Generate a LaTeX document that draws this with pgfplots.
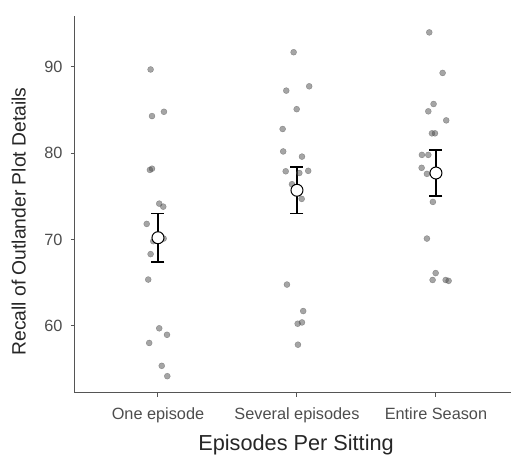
\documentclass[border=0pt]{standalone}
\usepackage{pgfplots}
\pgfplotsset{compat=1.18}
\usepackage{fontspec}
\setmainfont{Liberation Sans}
\definecolor{ticktext}{HTML}{4D4D4D}
\definecolor{axcol}{HTML}{555555}
\begin{document}
\begin{tikzpicture}
\path[use as bounding box] (-75pt,-64pt) rectangle (441pt,393pt);
\begin{axis}[
  at={(0pt,0pt)}, anchor=origin,
  scale only axis, width=436pt, height=377pt,
  xmin=0.403, xmax=3.54, ymin=52.2, ymax=95.9,
  axis x line*=bottom, axis y line*=left,
  axis line style={axcol, line width=1pt, -},
  xtick={1,2,3}, xticklabels={One episode,Several episodes,Entire Season},
  ytick={60,70,80,90},
  tick style={axcol, line width=1pt},
  tick align=outside, major tick length=4pt,
  ticklabel style={font=\fontsize{16.3}{19}\selectfont, text=ticktext},
  xticklabel style={yshift=-7pt},
  yticklabel style={xshift=-5pt},
  /pgf/number format/assume math mode=true,
  xlabel={Episodes Per Sitting}, ylabel={Recall of Outlander Plot Details},
  xlabel style={font=\fontsize{21.7}{24}\selectfont, text=black!85,
    at={(axis description cs:0.507,-0.153)}, anchor=base},
  ylabel style={font=\fontsize{19.3}{22}\selectfont, text=black!85,
    at={(axis description cs:-0.1135,0.455)}, anchor=base},
  clip=false,
]
\addplot[only marks, mark=*, mark size=3pt, color=black!70, opacity=0.5] coordinates {
(0.947,89.7) (0.957,84.3) (1.043,84.8) (0.942,78.06) (0.957,78.2) (1.009,74.15) (1.038,73.8) (0.919,71.8) (0.966,69.8) (1.041,70.1) (0.947,68.3) (0.930,65.35) (1.009,59.7) (1.065,58.95) (0.937,58.0) (1.027,55.35) (1.067,54.15)
(1.976,91.7) (1.923,87.25) (2.088,87.75) (1.998,85.1) (1.897,82.8) (1.901,80.2) (2.036,79.6) (1.919,77.9) (2.017,77.7) (2.081,77.95) (1.964,76.4) (2.034,74.7) (1.928,64.77) (2.045,61.7) (2.005,60.23) (2.036,60.38) (2.007,57.8)
(2.952,94.0) (3.048,89.3) (2.983,85.7) (2.945,84.85) (3.074,83.8) (2.971,82.3) (2.993,82.3) (2.899,79.8) (2.945,79.8) (2.897,78.3) (2.935,77.6) (2.978,74.35) (2.935,70.1) (2.998,66.1) (2.976,65.3) (3.070,65.3) (3.091,65.2)
};
\addplot[only marks, mark=none, black, line width=1.8pt,
  error bars/.cd, y dir=both, y explicit, error bar style={line width=1.8pt, black},
  error mark options={rotate=90, mark size=6.5pt, line width=1.8pt, black}]
  coordinates {
  (1,70.2) +- (0,2.8)
  (2,75.7) +- (0,2.7)
  (3,77.7) +- (0,2.7)
};
\addplot[only marks, mark=*, mark size=6pt, mark options={fill=white, draw=black, line width=1pt}] coordinates {
  (1,70.2) (2,75.7) (3,77.7)
};
\end{axis}
\end{tikzpicture}
\end{document}
